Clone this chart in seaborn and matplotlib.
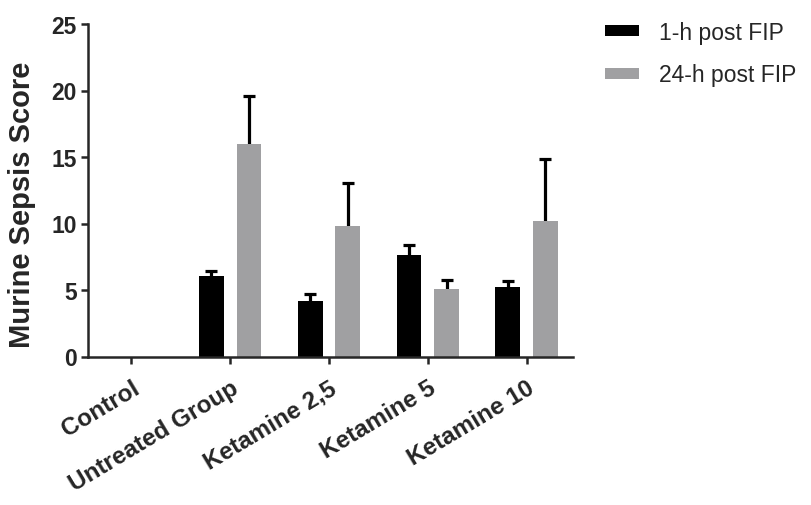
import matplotlib
matplotlib.use("Agg")
import matplotlib.pyplot as plt
import seaborn as sns
import pandas as pd
import numpy as np

groups = ["Control", "Untreated Group", "Ketamine 2,5", "Ketamine 5", "Ketamine 10"]
series_names = ["1-h post FIP", "24-h post FIP"]
mean_1h = [0.0, 6.05, 4.2, 7.65, 5.2]
err_1h = [0.0, 0.38, 0.53, 0.77, 0.44]
mean_24h = [0.0, 16.0, 9.8, 5.05, 10.2]
err_24h = [0.0, 3.6, 3.25, 0.68, 4.65]
y_ticks = [0, 5, 10, 15, 20, 25]
y_label = "Murine Sepsis Score"

sns.set_style("ticks")
plt.rcParams["font.family"] = ["Liberation Sans", "DejaVu Sans"]

df = pd.DataFrame({
    "group": groups * 2,
    "series": [series_names[0]] * len(groups) + [series_names[1]] * len(groups),
    "value": mean_1h + mean_24h,
})

fig = plt.figure(figsize=(8.11, 5.06), dpi=100)
ax = fig.add_axes([88 / 811, 1 - 357.5 / 506, (573 - 88) / 811, (357.5 - 25) / 506])

sns.barplot(data=df, x="group", y="value", hue="series", order=groups,
            hue_order=series_names, palette=["#000000", "#a0a0a2"],
            width=0.76, gap=0.34, errorbar=None, saturation=1, ax=ax,
            linewidth=0)
for p in ax.patches:
    p.set_zorder(3)

errs = [err_1h, err_24h]
means = [mean_1h, mean_24h]
for cont, m, e in zip(ax.containers, means, errs):
    for bar, mv, ev in zip(cont, m, e):
        if ev > 0:
            xc = bar.get_x() + bar.get_width() / 2
            ebc = ax.errorbar([xc], [mv], yerr=[[0], [ev]], fmt="none", ecolor="black",
                              elinewidth=2.3, capsize=4.5, capthick=2.3, zorder=1)
            for cap in ebc[1]:
                yd = np.asarray(cap.get_ydata(), dtype=float)
                if np.allclose(yd, mv):
                    cap.remove()

ax.set_ylim(0, 25)
ax.set_yticks(y_ticks)
ax.set_xlim(-0.44, 4.47)
ax.set_xlabel("")
ax.set_ylabel(y_label, fontsize=21, fontweight="bold")
ax.yaxis.set_label_coords(-0.107, 0.459)
sns.despine(ax=ax)
for s in ["left", "bottom"]:
    ax.spines[s].set_linewidth(1.8)
    ax.spines[s].set_zorder(4)
ax.tick_params(axis="y", width=1.8, length=5, pad=3)
ax.tick_params(axis="x", width=1.8, length=5, pad=9)
for lab in ax.get_yticklabels():
    lab.set_fontsize(16.5)
    lab.set_fontweight("bold")
ax.set_xticks(range(len(groups)))
ax.set_xticklabels(groups, rotation=31, ha="right", rotation_mode="anchor",
                   fontsize=17.5, fontweight="bold")

handles, labels = ax.get_legend_handles_labels()
ax.legend_.remove()
fig.legend(handles, labels, loc="upper left", bbox_to_anchor=(605 / 811, 1 - 22 / 506),
           frameon=False, fontsize=16.5, handlelength=1.5, handleheight=0.35,
           handletextpad=0.85, labelspacing=0.85, borderpad=0, borderaxespad=0)

fig.savefig("out.png", dpi=100)
